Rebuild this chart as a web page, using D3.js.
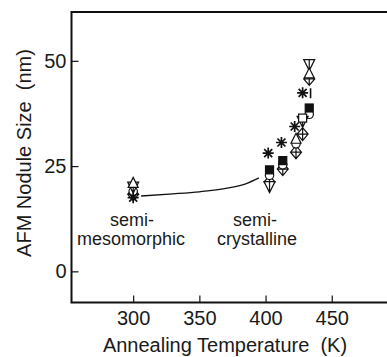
<!DOCTYPE html>
<html><head><meta charset="utf-8">
<script src="https://cdn.jsdelivr.net/npm/d3@7"></script>
<style>body{margin:0;background:#fff}svg{display:block}text{font-family:"Liberation Sans",Arial,sans-serif;fill:#1a1a1a;white-space:pre}</style>
</head><body>
<script>
// ---- data ----
const xTicks = [300, 350, 400, 450];
const yTicks = [0, 25, 50];
const starT = [300, 402, 412, 422, 428];
const starV = [17.5, 28.1, 30.6, 34.4, 42.4];
const sqFilledT = [403, 413, 433];
const sqFilledV = [24.1, 26.3, 38.8];
const circleT = [300, 403, 413, 423, 433];
const circleV = [19.0, 22.8, 25.3, 30.3, 37.3];
const diamondT = [300, 403, 413, 423, 428, 433];
const diamondV = [18.3, 21.2, 24.3, 28.3, 32.6, 45.7];
const triDownT = [300, 403, 428, 433];
const triDownV = [19.9, 20.0, 35.5, 49.0];
const triUpT = [300, 423, 433];
const triUpV = [21.0, 31.5, 47.0];
const sqOpenT = [428];
const sqOpenV = [36.4];
const barT = [434];
const barV = [42.3];
const curveT = [306, 330, 350, 370, 385, 395];
const curveV = [17.9, 18.4, 18.9, 19.7, 20.8, 22.2];
const xLabel = "Annealing Temperature  (K)";
const yLabel = "AFM Nodule Size  (nm)";

const W = 387, H = 357;
const svg = d3.select("body").append("svg").attr("width", W).attr("height", H);
const mLeft = 71.5, mTop = 12, mBottom = 302.5, mRight = 388;
const x = d3.scaleLinear().domain([253.4, 492.5]).range([mLeft, mRight]);
const y = d3.scaleLinear().domain([-7.4, 61.6]).range([mBottom, mTop]);

svg.append("path").attr("d", `M${mRight},${mTop}H${mLeft}V${mBottom}H${mRight}`)
  .attr("fill", "none").attr("stroke", "#111").attr("stroke-width", 2);

const xa = svg.append("g").attr("transform", `translate(0,${mBottom})`)
  .call(d3.axisBottom(x).tickValues(xTicks).tickSize(-7).tickPadding(8).tickFormat(d3.format("d")));
xa.select(".domain").remove();
xa.selectAll("line").attr("stroke", "#111").attr("stroke-width", 1.2);
xa.selectAll("text").style("font-size", "20px").attr("fill", "#1a1a1a");

const ya = svg.append("g").attr("transform", `translate(${mLeft},0)`)
  .call(d3.axisLeft(y).tickValues(yTicks).tickSize(-7).tickPadding(5));
ya.select(".domain").remove();
ya.selectAll("line").attr("stroke", "#111").attr("stroke-width", 1.2);
ya.selectAll("text").style("font-size", "20px").attr("fill", "#1a1a1a");

svg.append("text").attr("x", 225).attr("y", 352).attr("text-anchor", "middle")
  .style("font-size", "20px").text(xLabel);
svg.append("text").attr("transform", "translate(31,153) rotate(-90)").attr("text-anchor", "middle")
  .style("font-size", "20px").text(yLabel);

const line = d3.line().x(d => x(d[0])).y(d => y(d[1])).curve(d3.curveMonotoneX);
svg.append("path").datum(d3.zip(curveT, curveV)).attr("d", line)
  .attr("fill", "none").attr("stroke", "#111").attr("stroke-width", 1.3);

const ann = [["semi-", 132, 226], ["mesomorphic", 131, 245], ["semi-", 255, 226], ["crystalline", 257, 245]];
svg.selectAll("text.ann").data(ann).enter().append("text").attr("class", "ann")
  .attr("x", d => d[1]).attr("y", d => d[2]).attr("text-anchor", "middle")
  .style("font-size", "18px").text(d => d[0]);

const g = svg.append("g").attr("stroke", "#111").attr("stroke-width", 1.2);
function pts(T, V) { return d3.zip(T, V); }
g.selectAll(".dia").data(pts(diamondT, diamondV)).enter().append("path")
  .attr("transform", d => `translate(${x(d[0])},${y(d[1])})`)
  .attr("d", "M0,-6.5L5.5,0L0,6.5L-5.5,0Z M-5.5,0H5.5 M0,-6.5V6.5").attr("fill", "#fff");
g.selectAll(".cir").data(pts(circleT, circleV)).enter().append("circle")
  .attr("cx", d => x(d[0])).attr("cy", d => y(d[1])).attr("r", 4.2).attr("fill", "#fff");
g.selectAll(".td").data(pts(triDownT, triDownV)).enter().append("path")
  .attr("transform", d => `translate(${x(d[0])},${y(d[1])})`)
  .attr("d", "M-5.5,-5.5H5.5L0,5.5Z M0,-5.5V5.5").attr("fill", "#fff");
g.selectAll(".tu").data(pts(triUpT, triUpV)).enter().append("path")
  .attr("transform", d => `translate(${x(d[0])},${y(d[1])})`)
  .attr("d", "M-5,4.5H5L0,-5.5Z").attr("fill", "#fff");
g.selectAll(".so").data(pts(sqOpenT, sqOpenV)).enter().append("rect")
  .attr("x", d => x(d[0]) - 4).attr("y", d => y(d[1]) - 4).attr("width", 8).attr("height", 8).attr("fill", "#fff");
g.selectAll(".sf").data(pts(sqFilledT, sqFilledV)).enter().append("rect")
  .attr("x", d => x(d[0]) - 4).attr("y", d => y(d[1]) - 4).attr("width", 8).attr("height", 8).attr("fill", "#111");
g.selectAll(".st").data(pts(starT, starV)).enter().append("path")
  .attr("transform", d => `translate(${x(d[0])},${y(d[1])})`)
  .attr("d", "M-5.5,0H5.5 M0,-5.5V5.5 M-4,-4L4,4 M-4,4L4,-4")
  .attr("stroke-width", 1.7).attr("fill", "none");
g.selectAll(".vb").data(pts(barT, barV)).enter().append("path")
  .attr("transform", d => `translate(${x(d[0])},${y(d[1])})`)
  .attr("d", "M0,-5V5").attr("stroke-width", 1.6);
</script>
</body></html>
